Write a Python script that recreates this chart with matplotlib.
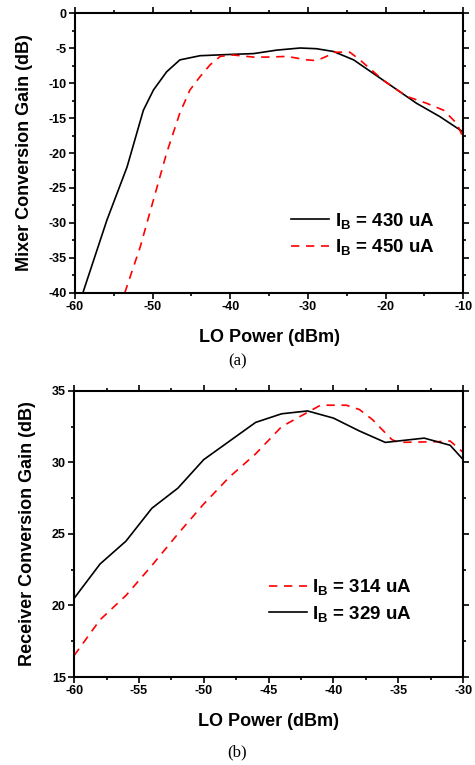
"""Mixer / receiver conversion gain vs LO power, two panels (a) and (b)."""
import matplotlib
matplotlib.use("Agg")
import matplotlib.pyplot as plt

plt.rcParams["font.family"] = ["Liberation Sans", "DejaVu Sans"]
plt.rcParams["font.weight"] = "bold"
plt.rcParams["mathtext.default"] = "regular"
plt.rcParams["axes.unicode_minus"] = False

# (a) mixer conversion gain
lo_a_430 = [-59.0, -55.9, -53.3, -51.2, -49.9, -48.2, -46.5, -43.9, -39.6, -37.0,
            -34.0, -31.0, -28.9, -26.7, -24.1, -20.3, -16.0, -13.0, -10.0]
gain_a_430 = [-40.0, -29.6, -22.0, -13.9, -11.0, -8.4, -6.7, -6.1, -5.9, -5.8,
              -5.3, -5.0, -5.1, -5.5, -6.7, -9.6, -12.9, -14.8, -17.0]
lo_a_450 = [-53.6, -51.6, -49.9, -48.2, -46.5, -45.2, -43.9, -42.6, -41.3, -39.6,
            -37.0, -35.3, -32.7, -30.1, -28.9, -27.6, -26.7, -24.6, -23.3, -20.3,
            -17.3, -14.7, -12.5, -10.8, -10.0]
gain_a_450 = [-40.0, -33.4, -26.7, -20.0, -14.3, -11.0, -9.1, -7.4, -6.2, -6.0,
              -6.3, -6.3, -6.2, -6.7, -6.8, -6.2, -5.6, -5.6, -6.7, -9.6,
              -11.9, -12.9, -13.9, -15.8, -17.8]

# (b) receiver conversion gain
lo_b_314 = [-60, -58, -56, -54, -52, -50, -48, -46, -44, -42, -41, -39, -38, -37,
            -35.5, -35, -32, -31, -30]
gain_b_314 = [16.5, 19.0, 20.7, 22.8, 25.0, 27.1, 29.0, 30.6, 32.5, 33.5, 34.0, 34.0,
              33.7, 33.0, 31.6, 31.4, 31.45, 31.5, 30.7]
lo_b_329 = [-60, -58, -56, -54, -52, -50, -48, -46, -44, -42, -40, -38, -36, -33,
            -31, -30]
gain_b_329 = [20.5, 22.9, 24.5, 26.8, 28.2, 30.2, 31.5, 32.8, 33.4, 33.6, 33.1, 32.2,
              31.4, 31.7, 31.2, 30.2]

RED = "#ff0000"
LABEL_FS = 13
LEGEND_FS = 13.5


def style_axes(ax):
    for s in ax.spines.values():
        s.set_linewidth(1.5)
    ax.tick_params(axis="both", which="both", direction="out", labelsize=9,
                   width=1.2, top=True, right=True, pad=2)
    ax.tick_params(which="major", length=4)
    ax.tick_params(which="minor", length=2.5)
    for lab in ax.get_xticklabels() + ax.get_yticklabels():
        lab.set_fontweight("bold")


fig = plt.figure(figsize=(4.75, 7.65), dpi=100)

# panel (a)
ax1 = fig.add_axes([0.158, 0.617, 0.817, 0.366])
ax1.plot(lo_a_430, gain_a_430, color="black", lw=1.2, label="I$_B$ = 430 uA")
ax1.plot(lo_a_450, gain_a_450, color=RED, lw=1.2, ls=(0, (5, 4)), label="I$_B$ = 450 uA")
ax1.set_xlim(-60, -10)
ax1.set_ylim(-40, 0)
ax1.set_xticks(range(-60, -9, 10))
ax1.set_xticks(range(-55, -10, 10), minor=True)
ax1.set_yticks(range(-40, 1, 5))
ax1.set_yticks([v - 2.5 for v in range(-35, 1, 5)], minor=True)
style_axes(ax1)
ax1.set_xlabel("LO Power (dBm)", fontsize=LABEL_FS, fontweight="bold", labelpad=11)
ax1.set_ylabel("Mixer Conversion Gain (dB)", fontsize=LABEL_FS, fontweight="bold", labelpad=11)
ax1.legend(loc="lower right", bbox_to_anchor=(0.945, 0.1), frameon=False,
           prop={"size": LEGEND_FS, "weight": "bold"}, handlelength=2.0,
           handletextpad=0.3, labelspacing=0.35, borderaxespad=0)
fig.text(0.5, 0.527, "(a)", ha="center", va="center", fontsize=12,
         family="Liberation Serif", fontweight="normal")

# panel (b)
ax2 = fig.add_axes([0.156, 0.115, 0.819, 0.374])
ax2.plot(lo_b_314, gain_b_314, color=RED, lw=1.2, ls=(0, (5, 4)), label="I$_B$ = 314 uA")
ax2.plot(lo_b_329, gain_b_329, color="black", lw=1.2, label="I$_B$ = 329 uA")
ax2.set_xlim(-60, -30)
ax2.set_ylim(15, 35)
ax2.set_xticks(range(-60, -29, 5))
ax2.set_xticks([v + 2.5 for v in range(-60, -30, 5)], minor=True)
ax2.set_yticks(range(15, 36, 5))
ax2.set_yticks([v + 2.5 for v in range(15, 35, 5)], minor=True)
style_axes(ax2)
ax2.set_xlabel("LO Power (dBm)", fontsize=LABEL_FS, fontweight="bold", labelpad=11)
ax2.set_ylabel("Receiver Conversion Gain (dB)", fontsize=LABEL_FS, fontweight="bold", labelpad=11)
ax2.legend(loc="lower right", bbox_to_anchor=(0.888, 0.16), frameon=False,
           prop={"size": LEGEND_FS, "weight": "bold"}, handlelength=2.0,
           handletextpad=0.3, labelspacing=0.35, borderaxespad=0)
fig.text(0.5, 0.017, "(b)", ha="center", va="center", fontsize=12,
         family="Liberation Serif", fontweight="normal")

fig.savefig("out.png", dpi=100)
